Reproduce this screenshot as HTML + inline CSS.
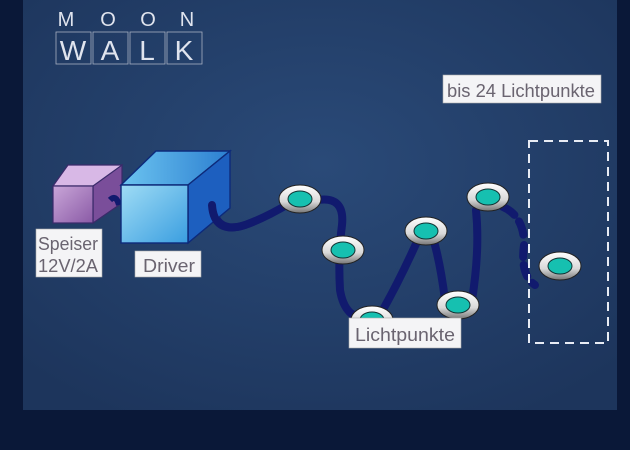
<!DOCTYPE html>
<html><head><meta charset="utf-8"><style>
html,body{margin:0;padding:0;background:#0a1838;}
svg{display:block}
text{font-family:"Liberation Sans",sans-serif;}
</style></head><body>
<svg width="630" height="450" viewBox="0 0 630 450" xmlns="http://www.w3.org/2000/svg">
<defs>
<radialGradient id="bg" cx="50%" cy="40%" r="70%">
<stop offset="0" stop-color="#2a4a78"/><stop offset="1" stop-color="#1d355c"/>
</radialGradient>
<linearGradient id="ring" x1="0" y1="0" x2="0" y2="1">
<stop offset="0" stop-color="#ffffff"/><stop offset="0.6" stop-color="#d8d8d8"/><stop offset="1" stop-color="#777"/>
</linearGradient>
<linearGradient id="dfront" x1="0" y1="0" x2="1" y2="1">
<stop offset="0" stop-color="#9fdcf5"/><stop offset="1" stop-color="#3a9ee0"/>
</linearGradient>
<linearGradient id="dtop" x1="0" y1="0" x2="1" y2="0">
<stop offset="0" stop-color="#6cc4f0"/><stop offset="1" stop-color="#2c7fd0"/>
</linearGradient>
<linearGradient id="pfront" x1="0" y1="0" x2="1" y2="1">
<stop offset="0" stop-color="#c9a6d8"/><stop offset="1" stop-color="#8a5aa6"/>
</linearGradient>
</defs>
<rect width="630" height="450" fill="#0a1838"/>
<rect x="23" y="0" width="594" height="410" fill="url(#bg)"/>
<!-- logo -->
<g fill="none" stroke="#c8ccd8" stroke-width="0.8" opacity="0.8">
<rect x="56" y="32" width="35" height="32"/><rect x="93" y="32" width="35" height="32"/><rect x="130" y="32" width="35" height="32"/><rect x="167" y="32" width="35" height="32"/>
</g>
<g fill="#e0e4ee" font-size="20" text-anchor="middle">
<text x="66" y="26" letter-spacing="0">M</text><text x="108" y="26">O</text><text x="148" y="26">O</text><text x="187" y="26">N</text>
<text x="73" y="60" font-size="28">W</text><text x="110" y="60" font-size="28">A</text><text x="147" y="60" font-size="28">L</text><text x="184" y="60" font-size="28">K</text>
</g>
<!-- cables -->
<g fill="none" stroke="#111a6e" stroke-width="8" stroke-linecap="round">
<path d="M110,200 Q116,194 122,200"/>
<path d="M212,203 Q215,235 245,225 Q265,218 290,203"/>
<path d="M318,200 Q345,196 342,225 Q338,255 340,290 Q345,320 368,318"/>
<path d="M380,315 Q400,280 420,235"/>
<path d="M432,235 Q440,260 445,300"/>
<path d="M472,300 Q480,250 476,210"/>
<path d="M503,207 Q522,215 524,240" stroke-dasharray="14 8"/>
<path d="M524,245 Q520,275 535,285" stroke-dasharray="12 8"/>
</g>
<!-- speiser box -->
<g stroke="#3a2a6a" stroke-width="1.2">
<polygon points="53,186 68,165 122,165 107,186" fill="#d8b8e6"/>
<polygon points="93,186 122,165 122,203 93,223" fill="#7a4e9a"/>
<rect x="53" y="186" width="40" height="37" fill="url(#pfront)"/>
</g>
<path d="M110,200 Q116,194 119,205" fill="none" stroke="#111a6e" stroke-width="6"/>
<!-- driver box -->
<g stroke="#0d2a7a" stroke-width="1.4">
<polygon points="121,185 156,151 230,151 188,185" fill="url(#dtop)"/>
<polygon points="188,185 230,151 230,208 188,243" fill="#1d5fbf"/>
<rect x="121" y="185" width="67" height="58" fill="url(#dfront)"/>
</g>
<path d="M212,205 Q214,235 245,225" fill="none" stroke="#111a6e" stroke-width="8" stroke-linecap="round"/>
<!-- nodes -->
<g>
<g transform="translate(300,199)"><ellipse rx="21" ry="14" fill="url(#ring)" stroke="#222" stroke-width="1"/><ellipse rx="12" ry="8" fill="#16c0b0" stroke="#133" stroke-width="1"/></g>
<g transform="translate(343,250)"><ellipse rx="21" ry="14" fill="url(#ring)" stroke="#222" stroke-width="1"/><ellipse rx="12" ry="8" fill="#16c0b0" stroke="#133" stroke-width="1"/></g>
<g transform="translate(372,320)"><ellipse rx="21" ry="14" fill="url(#ring)" stroke="#222" stroke-width="1"/><ellipse rx="12" ry="8" fill="#16c0b0" stroke="#133" stroke-width="1"/></g>
<g transform="translate(426,231)"><ellipse rx="21" ry="14" fill="url(#ring)" stroke="#222" stroke-width="1"/><ellipse rx="12" ry="8" fill="#16c0b0" stroke="#133" stroke-width="1"/></g>
<g transform="translate(458,305)"><ellipse rx="21" ry="14" fill="url(#ring)" stroke="#222" stroke-width="1"/><ellipse rx="12" ry="8" fill="#16c0b0" stroke="#133" stroke-width="1"/></g>
<g transform="translate(488,197)"><ellipse rx="21" ry="14" fill="url(#ring)" stroke="#222" stroke-width="1"/><ellipse rx="12" ry="8" fill="#16c0b0" stroke="#133" stroke-width="1"/></g>
<g transform="translate(560,266)"><ellipse rx="21" ry="14" fill="url(#ring)" stroke="#222" stroke-width="1"/><ellipse rx="12" ry="8" fill="#16c0b0" stroke="#133" stroke-width="1"/></g>
</g>
<!-- dashed rect -->
<rect x="529" y="141" width="79" height="202" fill="none" stroke="#e8ecf4" stroke-width="2" stroke-dasharray="9 6"/>
<!-- labels -->
<g fill="#f4f4f6" stroke="#aaa" stroke-width="0.6">
<rect x="36" y="229" width="66" height="48"/>
<rect x="135" y="251" width="66" height="26"/>
<rect x="349" y="318" width="112" height="30"/>
<rect x="443" y="75" width="158" height="28"/>
</g>
<g fill="#6a6470" font-size="18">
<text x="38" y="250" textLength="60" lengthAdjust="spacingAndGlyphs">Speiser</text>
<text x="38" y="272" textLength="60" lengthAdjust="spacingAndGlyphs">12V/2A</text>
<text x="143" y="272" textLength="52" lengthAdjust="spacingAndGlyphs">Driver</text>
<text x="355" y="341" textLength="100" lengthAdjust="spacingAndGlyphs">Lichtpunkte</text>
<text x="447" y="97" textLength="148" lengthAdjust="spacingAndGlyphs">bis 24 Lichtpunkte</text>
</g>
</svg>
</body></html>
